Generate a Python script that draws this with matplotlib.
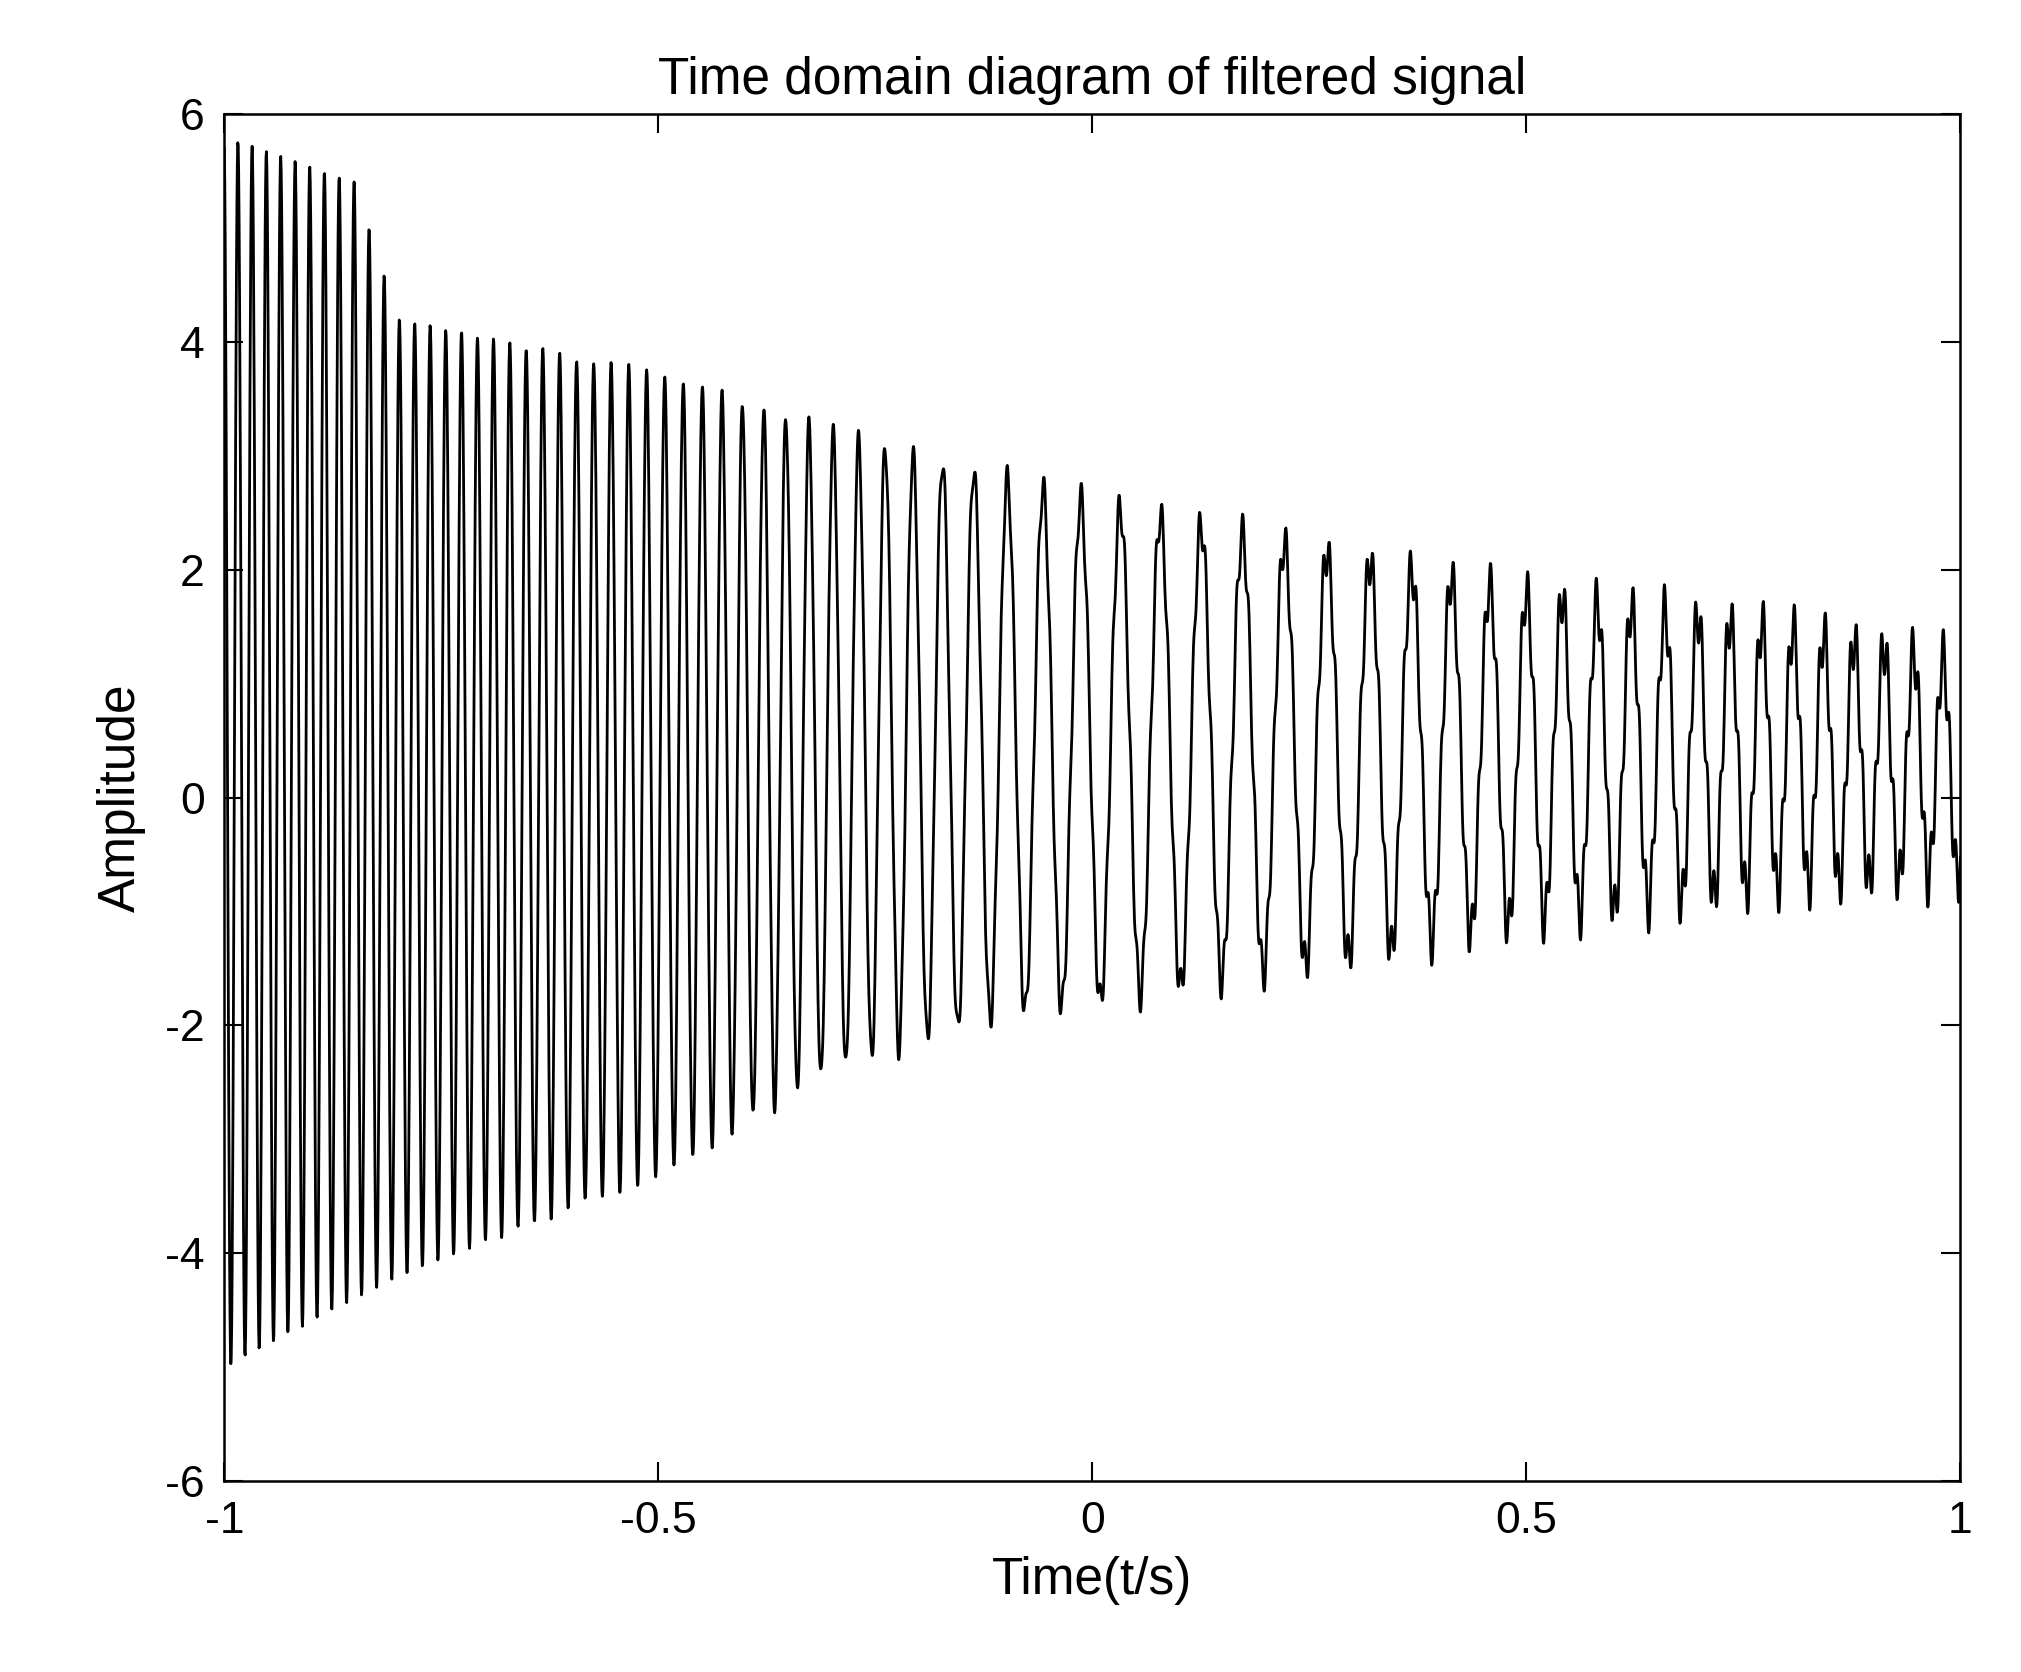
import numpy as np
import matplotlib
matplotlib.use("Agg")
import matplotlib.pyplot as plt

# keypoints
key_t = [-1.0, -0.85, -0.8, -0.5, -0.3, -0.1, 0.0, 0.3, 0.5, 0.8, 1.0]
key_freq = [62, 58, 57, 48, 35, 25, 22, 20, 24, 28, 30]
key_upper = [5.8, 5.4, 4.2, 3.7, 3.2, 2.8, 2.6, 2.1, 1.8, 1.5, 1.2]
key_lower = [-5.0, -4.4, -4.2, -3.3, -2.4, -1.9, -1.8, -1.4, -1.1, -0.8, -0.7]
ripple_freq = 140
ripple_amp = [0.0, 0.0, 0.0, 0.05, 0.08, 0.12, 0.15, 0.2, 0.22, 0.25, 0.25]
xticks = [-1, -0.5, 0, 0.5, 1]
xtick_labels = ['-1', '-0.5', '0', '0.5', '1']
yticks = [-6, -4, -2, 0, 2, 4, 6]
ytick_labels = ['-6', '-4', '-2', '0', '2', '4', '6']

t = np.linspace(-1, 1, 4001)
f = np.interp(t, key_t, key_freq)
phase = 2 * np.pi * np.cumsum(f) * (t[1] - t[0])
up = np.interp(t, key_t, key_upper)
lo = np.interp(t, key_t, key_lower)
ra = np.interp(t, key_t, ripple_amp)
y = (up + lo) / 2 + (up - lo) / 2 * np.cos(phase) + ra * np.sin(2 * np.pi * ripple_freq * t)

plt.rcParams['font.family'] = ['Liberation Sans', 'DejaVu Sans']
fig = plt.figure(figsize=(20.21, 16.72), dpi=100)
ax = fig.add_axes([0.111, 0.114, 0.859, 0.818])
ax.plot(t, y, color='black', lw=2.0)
ax.set_xlim(-1, 1)
ax.set_ylim(-6, 6)
ax.set_xticks(xticks)
ax.set_xticklabels(xtick_labels)
ax.set_yticks(yticks)
ax.set_yticklabels(ytick_labels)
ax.tick_params(labelsize=32, direction='in', length=14, width=1.5, top=True, right=True, pad=14)
for s in ax.spines.values():
    s.set_linewidth(1.8)
ax.set_title('Time domain diagram of filtered signal', fontsize=37, pad=14)
ax.set_xlabel('Time(t/s)', fontsize=37, labelpad=10)
ax.set_ylabel('Amplitude', fontsize=37, labelpad=14)
fig.savefig('out.png', dpi=100, facecolor='white')
